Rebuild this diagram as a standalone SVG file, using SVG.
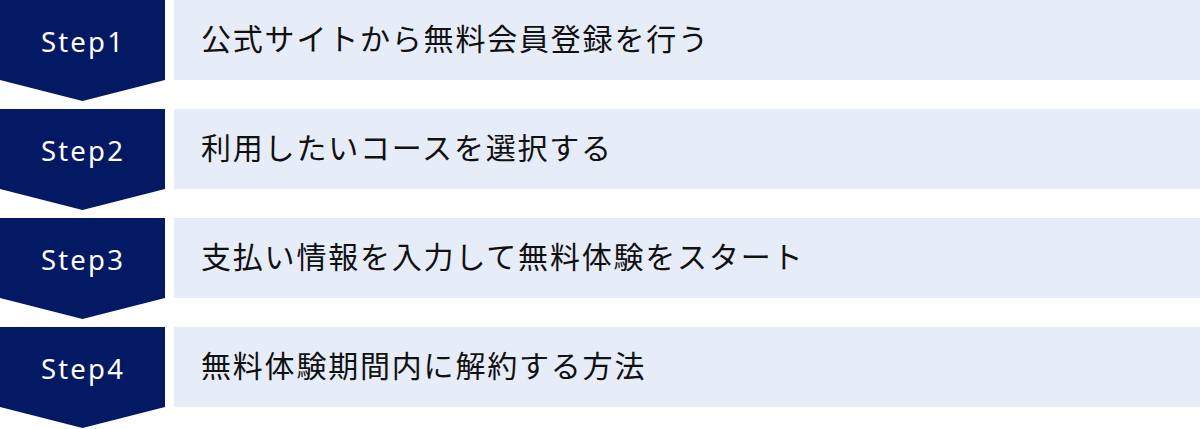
<svg xmlns="http://www.w3.org/2000/svg" width="1200" height="429" viewBox="0 0 1200 429">
<style>
.step{fill:#041963}
.box{fill:#E6ECF8}
.lbl{font-family:"Noto Sans","DejaVu Sans",sans-serif;font-size:27.5px;fill:#ffffff;text-anchor:middle;letter-spacing:2.2px}
.txt{font-family:"Noto Sans CJK JP","Noto Sans",sans-serif;font-size:30px;fill:#111111;letter-spacing:1.8px}
</style>
<rect width="1200" height="429" fill="#ffffff"/>
<g id="step1">
<polygon class="step" points="0,0 165,0 165,80 82.5,101 0,80"/>
<text class="lbl" x="83" y="52">Step1</text>
<rect class="box" x="174" y="0" width="1026" height="80"/>
<text class="txt" x="201" y="50">公式サイトから無料会員登録を行う</text>
</g>
<g id="step2">
<polygon class="step" points="0,109 165,109 165,189 82.5,210 0,189"/>
<text class="lbl" x="83" y="161">Step2</text>
<rect class="box" x="174" y="109" width="1026" height="80"/>
<text class="txt" x="201" y="159">利用したいコースを選択する</text>
</g>
<g id="step3">
<polygon class="step" points="0,218 165,218 165,298 82.5,319 0,298"/>
<text class="lbl" x="83" y="270">Step3</text>
<rect class="box" x="174" y="218" width="1026" height="80"/>
<text class="txt" x="201" y="268">支払い情報を入力して無料体験をスタート</text>
</g>
<g id="step4">
<polygon class="step" points="0,327 165,327 165,407 82.5,428 0,407"/>
<text class="lbl" x="83" y="379">Step4</text>
<rect class="box" x="174" y="327" width="1026" height="80"/>
<text class="txt" x="201" y="377">無料体験期間内に解約する方法</text>
</g>
<g id="connectors"/>
</svg>
